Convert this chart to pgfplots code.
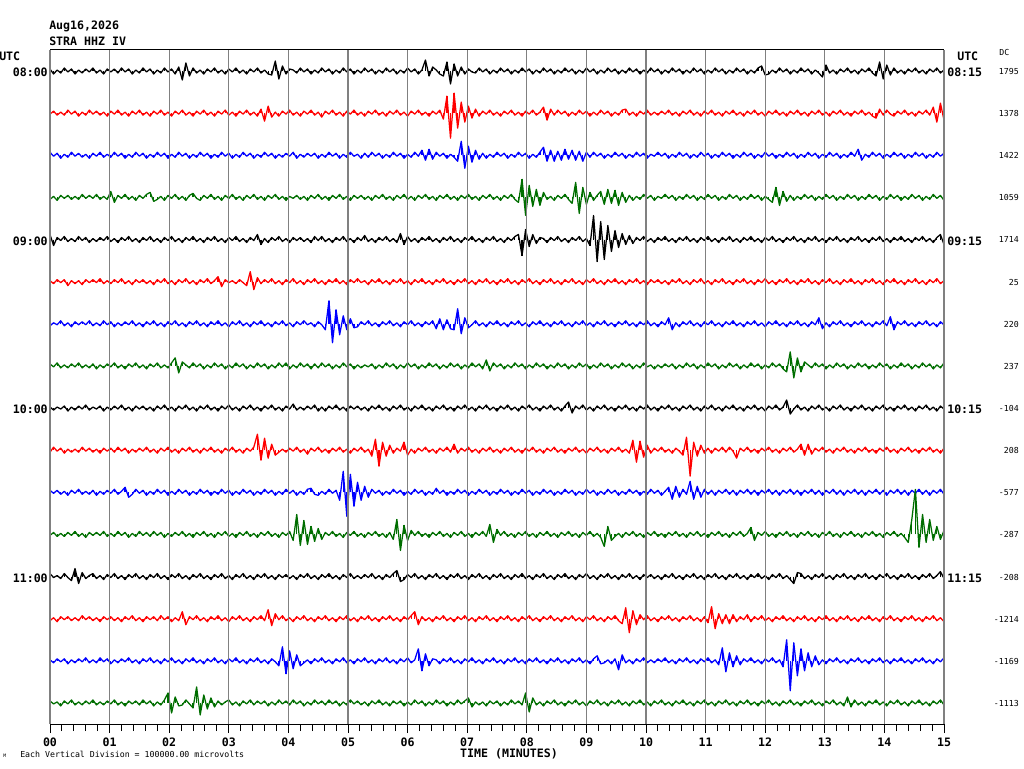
\documentclass[border=0pt]{standalone}
\usepackage{pgfplots}
\usepackage{pgfplotstable}
\pgfplotsset{compat=1.18}
\usepackage{fontspec}
\setmainfont{DejaVu Sans Mono}
\definecolor{tgreen}{RGB}{0,110,0}
\definecolor{tgray}{RGB}{128,128,128}
\pgfplotstableread{
t A B C D E F G H I J K L M N O P
0.00 2 -1 3 -2 5 1 -2 2 1 -2 2 -1 3 -2 1 2
0.06 -3 2 -1 1 -6 -2 1 -1 -2 3 -1 2 -1 1 -2 -1
0.12 1 -2 2 -3 2 2 -1 3 1 -1 2 -2 1 -3 2 1
0.18 -2 1 -3 2 -1 -1 3 -2 -1 2 -2 1 -2 2 -1 -3
0.24 3 -2 1 -1 3 2 -2 1 2 -3 1 -2 3 -1 2 2
0.30 -1 3 -2 2 -2 -4 1 -2 -3 1 -3 2 -1 2 -3 -1
0.36 2 -1 3 -2 1 1 -3 2 1 -2 2 -1 -4 -2 1 3
0.42 -3 2 -1 1 -2 -2 2 -1 -2 1 -1 3 8 1 -2 -2
0.48 1 -3 2 -2 3 1 -1 3 2 -2 3 -2 -7 -2 2 1
0.54 -2 1 -2 3 -1 -3 2 -2 -1 3 -2 1 4 3 -1 -2
0.60 2 -2 1 -1 2 2 -1 1 3 -1 1 -3 -2 -1 3 2
0.66 -1 3 -3 2 -3 -1 3 -2 -2 2 -2 2 1 2 -2 -1
0.72 3 -1 2 -1 1 2 -2 2 1 -2 2 -1 3 -2 1 3
0.78 -2 2 -1 3 -2 -1 1 -3 -1 1 -3 2 -2 1 -2 -2
0.84 1 -2 3 -2 2 3 -2 1 2 -3 1 -1 1 -3 3 1
0.90 -3 1 -2 1 -1 -2 3 -2 -3 2 -2 3 -3 2 -1 -2
0.96 2 -3 1 -2 3 1 -1 2 1 -1 2 -2 2 -1 2 2
1.02 -1 2 -2 6 -2 -2 2 -1 -2 2 -1 1 -1 2 -3 -1
1.08 2 -1 3 -5 1 2 -3 3 2 -2 3 -2 3 -2 1 3
1.14 -2 3 -1 2 -3 -1 1 -2 -1 3 -2 3 -2 1 -2 -2
1.20 3 -2 2 -1 2 3 -2 1 3 -1 1 -1 1 -3 2 1
1.26 -1 1 -3 3 -1 -2 2 -3 -2 2 5 2 -3 2 -1 -3
1.32 2 -3 1 -2 3 1 -1 2 1 -3 -5 -3 2 -1 3 2
1.38 -3 2 -2 1 -2 -3 3 -1 -3 1 -2 1 -1 3 -2 -1
1.44 1 -1 3 -3 1 2 -2 3 2 -2 3 -2 3 -2 1 2
1.50 -2 3 -1 2 -3 -1 1 -2 -1 2 -1 3 -2 1 -3 -2
1.56 3 -2 2 -1 2 2 -3 1 2 -1 2 -1 1 -3 2 3
1.62 -1 1 -3 3 -1 -2 2 -3 -2 3 -3 2 -3 2 -1 -1
1.68 2 -3 1 5 3 1 -1 2 1 -2 1 -2 2 -1 3 2
1.74 -3 2 -2 -4 -2 -3 3 -1 -3 1 -2 3 -1 2 -2 -3
1.80 1 -1 3 -2 1 2 -2 3 2 -3 3 -1 3 -2 1 1
1.86 -2 3 -1 1 -3 -1 1 -2 -1 2 -1 2 -2 3 -3 -2
1.92 3 -2 2 -3 2 3 -3 1 3 -1 2 -3 1 -1 2 3
1.98 -1 1 -3 2 -1 -2 2 -2 -2 3 -3 1 -3 2 -1 10
2.04 2 -3 1 -1 3 1 -1 3 1 -2 1 -2 2 -3 3 -10
2.10 -3 2 -2 3 -2 -3 3 8 -3 1 -2 2 -1 1 -2 6
2.16 4 -1 3 -2 1 2 -2 -7 2 -3 3 -1 3 -2 1 -3
2.22 -9 3 -1 1 -3 -1 1 4 -1 2 -1 3 -2 7 -3 -2
2.28 8 -2 2 -3 2 3 -3 1 3 -1 2 -2 1 -6 2 3
2.34 -5 1 -3 2 -1 -2 2 -2 -2 3 -3 1 -3 2 -1 -1
2.40 3 -3 1 4 3 1 -1 3 1 -2 1 -3 2 -1 3 -5
2.46 -2 2 -2 -1 -2 -3 3 -1 -3 1 -2 2 -1 3 -2 16
2.52 1 -1 3 -3 1 2 -2 2 2 -3 3 -1 3 -2 1 -12
2.58 -3 3 -1 2 -3 -1 1 -3 -1 2 -1 3 -2 1 -3 8
2.64 2 -2 2 -1 2 3 -3 1 3 -1 2 -2 1 -3 2 -6
2.70 -1 1 -3 3 -1 -2 2 -2 -2 3 -3 1 -3 2 -1 5
2.76 3 -3 1 -2 3 1 -1 3 1 -2 1 -3 2 -1 3 -4
2.82 -2 2 -2 1 -2 5 3 -1 -3 1 -2 2 -1 3 -2 2
2.88 1 -1 3 -3 1 -5 -2 2 2 -3 3 -1 3 -2 1 -2
2.94 -3 3 -1 2 -3 2 1 -3 -1 2 -1 3 -2 1 -3 1
3.00 2 -2 2 -1 2 -1 -3 1 3 -1 2 -2 1 -3 2 3
3.06 -1 1 -3 3 -1 1 2 -2 -2 3 -3 1 -3 2 -1 -2
3.12 3 -3 1 -2 3 -2 -1 3 1 -2 1 -3 2 -1 3 1
3.18 -2 2 -2 1 -2 2 3 -1 -3 1 -2 2 -1 3 -2 -3
3.24 1 -1 3 -3 1 -1 -2 2 2 -3 3 -1 3 -2 1 2
3.30 -3 3 -1 2 -3 -4 1 -3 -1 2 -1 3 -2 1 -3 -1
3.36 2 -2 2 -1 2 10 -3 1 3 -1 2 -2 1 -3 2 3
3.42 -1 1 -3 3 -1 -8 2 -2 -2 3 -3 1 -3 2 -1 -2
3.48 3 -3 1 -2 5 4 -1 3 1 16 1 -3 2 -1 3 2
3.54 -2 4 -2 1 -5 -2 3 -1 -3 -10 -2 2 -1 3 -2 -1
3.60 1 -8 3 -3 1 2 -2 2 2 12 3 -1 3 -2 1 2
3.66 -3 7 -1 2 -3 -1 1 -3 -1 -8 -1 3 -2 9 -3 -3
3.72 -4 -4 2 -1 2 3 -3 1 3 6 2 -2 1 -7 2 1
3.78 10 1 -3 3 -1 -2 2 -2 -2 -5 -3 1 -3 5 -1 -2
3.84 -8 -3 1 -2 3 1 -1 3 1 -2 1 -3 2 -1 -5 3
3.90 5 2 -2 1 -2 -3 3 -1 -3 1 -2 2 -1 3 14 -1
3.96 -3 -1 2 -3 1 2 -2 3 2 -2 3 -1 2 -2 -13 2
4.02 2 3 -1 1 -3 -1 1 -3 -1 2 -1 3 -2 1 10 -2
4.08 1 -2 3 -1 2 3 -3 1 4 -1 2 -6 1 -3 -8 3
4.14 -2 1 -3 2 -1 -2 2 -2 -2 3 -3 20 -3 2 6 -1
4.20 3 -3 1 -2 2 1 -1 3 1 -2 1 -11 2 -1 -5 2
4.26 -1 2 -2 1 -2 -3 3 -1 -2 1 -2 14 -1 3 -2 -3
4.32 2 -1 2 -3 1 2 -1 2 2 -4 3 -10 3 -2 1 1
4.38 -3 3 -1 2 -3 -1 1 -3 -1 2 4 8 -2 1 -3 -2
4.44 1 -2 2 -1 3 3 -3 2 3 -1 -2 -7 1 -3 2 3
4.50 -2 1 -3 3 -1 -2 2 -2 -3 3 -3 6 -3 2 -1 -1
4.56 3 -4 1 -2 3 1 -1 3 1 -2 1 -5 2 -1 3 2
4.62 -1 2 -2 1 -2 -3 -6 -1 -3 1 -2 2 -1 3 -2 -2
4.68 2 -1 3 -3 1 2 23 2 2 -3 3 -1 3 -2 1 3
4.74 -3 3 -1 2 -3 -1 -19 -3 -1 2 -1 3 -2 1 -3 -1
4.80 1 -2 2 -1 2 3 14 1 3 -1 2 -2 1 -3 2 2
4.86 -2 1 -3 3 -1 -2 -11 -2 -2 3 -8 1 -3 2 -1 -3
4.92 3 -3 1 -2 3 1 8 3 1 -2 21 -3 2 -1 3 1
4.98 -1 2 -2 1 -2 -3 -6 -1 -3 1 -24 2 -1 3 -2 -2
5.04 2 -1 3 -3 1 2 5 2 2 -3 18 -1 3 -2 1 3
5.10 -3 3 -1 2 -3 -1 -4 -3 -1 2 -14 3 -2 1 -3 -1
5.16 1 -2 1 -1 2 3 -3 1 2 -1 10 -2 1 -3 2 2
5.22 -2 1 -3 2 -1 -1 2 -2 -2 3 -8 1 -2 2 -1 -2
5.28 3 -3 2 -2 4 1 -1 1 1 -2 6 -3 2 -1 3 1
5.34 -1 2 -2 1 -2 -3 3 -1 -3 1 -5 2 -1 3 -2 -3
5.40 2 -1 3 -3 1 2 -2 2 2 -6 3 -1 3 -2 1 2
5.46 -3 3 -1 2 -3 -1 1 -3 -1 11 -1 3 -2 1 -3 -1
5.52 1 -2 2 -1 2 3 -3 1 3 -16 2 -2 1 -3 2 3
5.58 -2 1 -3 3 -1 -2 2 -2 -2 8 -3 1 -3 2 -1 -2
5.64 3 -3 1 -2 3 1 -1 3 1 -6 1 -3 2 -1 3 1
5.70 -1 2 -2 1 -2 -3 3 -1 -3 5 -2 2 -1 3 -2 -3
5.76 2 -1 3 -3 1 2 -2 2 2 -3 3 -5 3 -2 1 2
5.82 -3 3 -1 2 -3 -1 1 -3 -1 2 -1 15 6 1 -3 -1
5.88 1 -2 2 -1 6 3 -3 1 3 -1 2 -16 -5 -3 2 2
5.94 -2 1 -3 3 -5 -2 2 -2 -2 8 -3 9 -3 2 -1 -3
6.00 3 -3 1 -2 3 1 -1 3 1 -5 1 -6 2 -1 3 1
6.06 -1 2 -2 1 -2 -3 3 -1 -3 1 -2 4 -1 3 -2 -2
6.12 2 -1 3 -3 1 2 -2 2 2 -3 3 -1 3 7 1 3
6.18 -3 3 -1 2 -3 -1 1 -3 -1 2 -1 3 -2 -6 12 -1
6.24 1 -2 5 -1 2 3 -3 1 3 -1 2 -2 1 2 -10 2
6.30 11 1 -5 3 -1 -2 2 -2 -2 3 -3 1 -3 -2 7 -3
6.36 -5 -3 6 -2 3 1 -1 3 1 -2 1 -3 2 1 -5 1
6.42 4 2 -4 1 -2 -3 3 -1 -3 1 -2 2 -1 -3 2 -2
6.48 1 -1 3 -3 1 2 -5 2 2 -3 4 -1 3 2 1 3
6.54 -3 3 -1 2 -3 -1 5 -3 -1 2 -1 3 -2 -1 -3 -1
6.60 -5 -6 2 -1 2 3 -6 1 3 -1 2 -2 1 3 2 2
6.66 9 17 -3 3 -1 -2 4 -2 -2 3 -3 1 -3 -2 -1 -3
6.72 -13 -25 1 -2 3 1 -5 3 1 -2 1 -3 2 1 3 1
6.78 7 20 -2 1 -2 -3 -6 -1 -3 6 -2 2 -1 -3 -2 -2
6.84 -5 -15 -6 -3 1 2 15 2 2 -3 3 -1 3 2 1 3
6.90 4 11 14 2 -3 -1 -10 -3 -1 2 -1 3 -2 -1 -3 -1
6.96 -3 -9 -13 -1 2 3 6 1 3 -1 2 -2 1 3 2 2
7.02 2 7 9 3 -1 -2 -4 -2 -2 3 -3 1 -3 -2 -1 5
7.08 -1 -5 -7 -2 3 1 -1 3 1 -2 1 -3 2 1 3 -4
7.14 -2 4 5 1 -2 -3 3 -1 -3 1 -2 2 -1 -3 -2 1
7.20 3 -3 -4 -3 1 2 -2 2 2 -3 3 -1 3 2 1 -2
7.26 -1 2 2 2 -3 -1 1 -3 -1 2 -1 3 -2 -1 -3 1
7.32 2 -1 -3 -1 2 3 -3 6 3 -1 2 -2 1 3 2 -3
7.38 -3 3 1 3 -1 -2 2 -5 -2 3 -3 10 -3 -2 -1 2
7.44 1 -2 -2 -2 3 1 -1 3 1 -2 1 -8 2 1 3 -1
7.50 -2 1 3 1 -2 -3 3 -1 -3 1 -2 5 -1 -3 -2 2
7.56 3 -3 -1 -3 1 2 -2 2 2 -3 3 -1 3 2 1 -3
7.62 -1 2 2 2 -3 -1 1 -3 -1 2 -1 3 -2 -1 -3 1
7.68 2 -1 -3 -1 2 3 -3 1 3 -1 2 -2 1 3 2 -2
7.74 -3 3 1 3 -1 -2 2 -2 -2 3 -3 1 -3 -2 -1 3
7.80 1 -2 -2 -2 3 1 -1 3 1 -2 1 -3 2 1 3 -1
7.86 -2 1 3 -5 5 -3 3 -1 -3 1 -2 2 -1 -3 -2 2
7.92 3 -3 -1 18 -16 2 -2 2 2 -3 3 -1 3 2 1 -2
7.98 -1 2 2 -18 10 -1 1 -3 -1 2 -1 3 -2 -1 -3 10
8.04 2 -1 -3 12 -7 3 -3 1 3 -1 2 -2 1 3 2 -9
8.10 -3 3 1 -9 5 -2 2 -2 -2 3 -3 1 -3 -2 -1 5
8.16 1 -2 -2 8 -4 1 -1 3 1 -2 1 -3 2 1 3 -2
8.22 -2 1 3 -8 2 -3 3 -1 -3 1 -2 2 -1 -3 -2 1
8.28 3 6 8 5 1 2 -2 2 2 -3 3 -1 3 2 1 -3
8.34 -1 -7 -6 -2 -3 -1 1 -3 -1 2 -1 3 -2 -1 -3 2
8.40 2 4 5 1 2 3 -3 1 3 -1 2 -2 1 3 2 -1
8.46 -3 -2 -6 -3 -1 -2 2 -2 -2 3 -3 1 -3 -2 -1 3
8.52 1 3 4 2 3 1 -1 3 1 -2 1 -3 2 1 3 -2
8.58 -2 -1 -5 -1 -2 -3 3 -1 -3 1 -2 2 -1 -3 -2 1
8.64 3 2 6 3 1 2 -2 2 2 -3 3 -1 3 2 1 -3
8.70 -1 -3 -4 -2 -3 -1 1 -3 6 2 -1 3 -2 -1 -3 2
8.76 2 1 5 -6 2 3 -3 1 -5 -1 2 -2 1 3 2 -1
8.82 -3 -2 -5 15 -1 -2 2 -2 2 3 -3 1 -3 -2 -1 3
8.88 1 3 4 -16 3 1 -1 3 -1 -2 1 -3 2 1 3 -2
8.94 -2 -1 -6 10 -2 -3 3 -1 3 1 -2 2 -1 -3 -2 1
9.00 3 2 3 -7 1 2 -2 2 -2 -3 3 -1 3 2 1 -3
9.06 -1 -3 -2 5 -6 -1 1 -3 1 2 -1 3 -2 -1 -3 2
9.12 2 1 3 -3 24 3 -3 1 -3 -1 2 -2 1 3 2 -1
9.18 -3 -2 -1 2 -22 -2 2 -2 2 3 -3 1 -3 -2 5 3
9.24 1 3 2 6 18 1 -1 3 -1 -2 1 -3 2 1 -3 -2
9.30 -2 -1 -3 -7 -20 -3 3 -1 3 1 -2 -12 -1 -3 -2 1
9.36 3 2 1 8 14 2 -2 2 -2 -3 3 8 3 2 1 -3
9.42 -1 -3 -2 -6 -12 -1 1 -3 1 2 -1 -6 -2 -1 -3 2
9.48 2 1 3 7 9 3 -3 1 -3 -1 2 -2 1 3 2 -1
9.54 -3 -2 -1 -8 -8 -2 2 -2 2 3 -3 1 -3 -2 -9 3
9.60 1 3 2 5 6 1 -1 3 -1 -2 1 -3 2 -5 6 -2
9.66 -2 4 -3 -5 -5 -3 3 -1 3 1 -2 2 -1 11 -2 1
9.72 3 -2 1 2 4 2 -2 2 -2 -3 3 -1 3 -14 1 -3
9.78 -1 1 -2 -3 -4 -1 1 -3 1 10 -1 3 -2 8 -3 2
9.84 2 -3 3 1 2 3 -3 1 -3 -12 2 -2 1 -6 2 -1
9.90 -3 2 -1 -2 -1 -2 2 -2 2 9 -3 1 -3 4 -1 3
9.96 1 -1 2 3 3 1 -1 3 -1 -7 1 -3 2 -1 3 -2
10.02 -2 3 -3 -1 -2 -3 3 -1 3 5 -2 2 -1 3 -2 1
10.08 3 -2 1 2 1 2 -2 1 -2 -3 3 -1 2 -2 1 -3
10.14 -1 1 -1 -3 -3 -1 1 -3 1 2 -1 3 -2 1 -2 2
10.20 2 -2 3 1 2 2 -3 1 -3 -1 2 -2 1 -3 2 -1
10.26 -3 2 -1 -1 -1 -2 2 -2 2 3 -3 1 -3 2 -1 3
10.32 1 -1 2 3 3 1 -1 2 -1 -2 1 -3 2 -1 3 -2
10.38 -2 3 -3 -1 -2 -3 6 -1 3 1 5 2 -1 3 -2 1
10.44 3 -2 1 2 1 2 -6 2 -2 -3 -7 -1 3 -2 1 -3
10.50 -1 1 -2 -3 -3 -1 1 -3 1 2 6 3 -2 1 -3 2
10.56 2 -3 3 1 2 3 -3 1 -3 -1 -5 -2 1 -3 2 -1
10.62 -3 2 -1 -2 -1 -2 2 -2 2 -5 3 1 -3 2 -1 3
10.68 1 -1 2 3 3 1 -1 3 -1 13 -2 -3 2 -1 3 -2
10.74 -2 3 -3 -1 -2 -3 3 -1 3 -26 11 2 -1 3 -2 1
10.80 3 -2 1 2 1 2 -2 2 -2 8 -7 -1 3 -2 1 -3
10.86 -1 1 -2 -3 -3 -1 1 -3 1 -6 6 3 -2 1 -3 2
10.92 2 -3 3 1 2 3 -3 1 -3 5 -5 -2 1 -3 2 -1
10.98 -3 2 -1 -2 -1 -2 2 -2 2 -3 3 1 -3 2 -1 3
11.04 1 -1 2 3 3 1 -1 3 -1 2 -2 -3 2 -4 3 -2
11.10 -2 3 -3 -1 -2 -3 3 -1 3 -3 2 2 -1 12 -2 1
11.16 3 -2 1 2 1 2 -2 2 -2 2 -3 -1 3 -10 1 -3
11.22 -1 1 -2 -3 -3 -1 1 -3 1 -1 2 3 -2 5 -4 2
11.28 2 -3 3 1 2 3 -3 1 -3 3 -1 -2 1 -5 13 -1
11.34 -3 2 -1 -2 -1 -2 2 -2 2 -2 3 1 -3 4 -11 3
11.40 1 -1 2 3 3 1 -1 3 -1 3 -2 -3 2 -5 8 -2
11.46 -2 3 -3 -1 -2 -3 3 -1 3 -1 2 2 -1 4 -6 1
11.52 3 -2 1 2 1 2 -2 2 -2 -8 -3 -1 3 -3 5 -3
11.58 -1 1 -2 -3 -3 -1 1 -3 1 2 2 3 -2 2 -4 2
11.64 2 -3 3 1 2 3 -3 1 -3 -1 -1 -2 1 -1 2 -1
11.70 -3 2 -1 -2 -1 -2 2 -2 2 3 3 1 -3 4 -1 3
11.76 1 -1 2 3 3 1 -1 3 -1 -2 -2 7 2 -3 3 -2
11.82 -2 3 -3 -1 -2 -3 3 -1 3 1 2 -6 -1 2 -2 1
11.88 3 -2 1 2 1 2 -2 2 -2 -3 -3 2 3 -1 1 -3
11.94 5 1 -2 -3 -3 -1 1 -3 1 2 2 -1 -2 3 -3 2
12.00 -4 -3 3 1 2 3 -3 1 -3 -1 -1 3 1 -2 2 -1
12.06 -3 2 -1 -2 -1 -2 2 -2 2 3 3 -2 -3 1 -1 3
12.12 1 -1 2 -5 3 1 -1 3 -1 -2 -2 1 2 -3 3 -2
12.18 -2 3 -3 10 -2 -3 3 -1 3 1 2 -3 -1 2 -2 1
12.24 3 -2 1 -8 1 2 -2 2 -2 -3 -3 2 3 -1 1 -3
12.30 -1 1 -2 6 -3 -1 1 -3 1 2 2 -1 -2 3 -6 2
12.36 2 -3 3 -4 2 3 -3 -6 8 -1 -1 3 1 -2 21 -1
12.42 -3 2 -1 2 -1 -2 2 14 -6 3 3 -2 -3 1 -30 3
12.48 1 -1 2 -3 3 1 -1 -12 -1 -2 -2 1 -7 -3 18 -2
12.54 -2 3 -3 1 -2 -3 3 8 3 1 2 -3 4 2 -15 1
12.60 3 -2 1 -2 1 2 -2 -6 -2 6 -3 2 3 -1 12 -3
12.66 -1 1 -2 3 -3 -1 1 4 1 -5 2 -1 -2 3 -10 2
12.72 2 -3 3 -1 2 3 -3 1 -3 6 -1 3 1 -2 8 -1
12.78 -3 2 -1 2 -1 -2 2 -2 2 -4 3 -2 -3 1 -6 3
12.84 1 -1 2 -3 3 1 -1 3 -1 2 -2 1 2 -3 5 -2
12.90 -2 3 -3 1 -2 -3 6 -1 3 -1 2 -3 -1 2 -4 1
12.96 -6 -2 1 -2 1 2 -5 2 -2 3 -3 2 3 -1 1 -3
13.02 6 1 -2 3 -3 -1 1 -3 1 -2 2 -1 -2 3 -3 2
13.08 -2 -3 3 -1 2 3 -3 1 -3 1 -1 3 1 -2 2 -1
13.14 1 2 -1 2 -1 -2 2 -2 2 -3 3 -2 -3 1 -1 3
13.20 -3 -1 2 -3 3 1 -1 3 -1 2 -2 1 2 -3 3 -2
13.26 2 3 -3 1 -2 -3 3 -1 3 -1 2 -3 -1 2 -2 1
13.32 -1 -2 1 -2 1 2 -2 2 -2 3 -3 2 3 -1 1 -3
13.38 3 1 -2 3 -3 -1 1 -3 1 -2 2 -1 -2 3 -3 6
13.44 -2 -3 3 -1 2 3 -3 1 -3 1 -1 3 1 -2 2 -4
13.50 1 2 -1 2 -1 -2 2 -2 2 -3 3 -2 -3 1 -1 3
13.56 -3 -1 6 -3 3 1 -1 3 -1 2 -2 1 2 -3 3 -2
13.62 2 3 -5 1 -2 -3 3 -1 3 -1 2 -3 -1 2 -2 1
13.68 -1 -2 1 -2 1 2 -2 2 -2 3 -3 2 3 -1 1 -3
13.74 3 1 -2 3 -3 -1 1 -3 1 -2 2 -1 -2 3 -3 2
13.80 -2 -3 3 -1 2 3 -3 1 -3 1 -1 3 1 -2 2 -1
13.86 -5 -5 -1 2 -1 -2 2 -2 2 -3 3 -2 -3 1 -1 3
13.92 9 4 2 -3 3 1 -1 3 -1 2 -2 1 2 -3 3 -2
13.98 -8 -2 -3 1 -2 -3 3 -1 3 -1 2 -3 -1 2 -2 1
14.04 6 3 1 -2 1 2 -2 2 -2 3 -3 2 3 -1 1 -3
14.10 -4 -1 -2 3 -3 -1 7 -3 1 -2 2 -1 -2 3 -3 2
14.16 3 -3 3 -1 2 3 -6 1 -3 1 -1 3 1 -2 2 -1
14.22 -2 2 -1 2 -1 -2 2 -2 2 -3 3 -2 -3 1 -1 3
14.28 1 -1 2 -3 3 1 -1 3 -1 2 -2 1 2 -3 3 -2
14.34 -3 3 -3 1 -2 -3 3 -1 3 -1 2 -3 -1 2 -2 1
14.40 2 -2 1 -2 1 2 -2 2 -2 3 -3 -8 3 -1 1 -3
14.46 -1 1 -2 3 -3 -1 1 -3 1 -2 2 15 -2 3 -3 2
14.52 3 -3 3 -1 2 3 -3 1 -3 1 -1 45 1 -2 2 -1
14.58 -2 2 -1 2 -1 -2 2 -2 2 -3 3 -13 -3 1 -1 3
14.64 1 -1 2 -3 3 1 -1 3 -1 2 -2 20 2 -3 3 -2
14.70 -3 3 -3 1 -2 -3 3 -1 3 -1 2 -8 -1 2 -2 1
14.76 2 -2 1 -2 1 2 -2 2 -2 3 -3 15 3 -1 1 -3
14.82 -1 6 -2 3 -3 -1 1 -3 1 -2 2 -6 -2 3 -3 2
14.88 3 -9 3 -1 2 3 -3 1 -3 1 -1 8 1 -2 2 -1
14.94 -2 10 -1 2 5 -2 2 -2 2 -3 3 -5 5 1 -1 3
15.00 1 -7 2 -3 -5 1 -1 3 -1 2 -2 4 -2 -3 3 -2
}\seis
% one axis per trace: its y = 0 is the trace's centre line (values in pixels)
\newcommand{\trace}[3]{%
\begin{axis}[at={(37.5pt,#3pt)}, anchor=west, scale only axis,
  width=670.5pt, height=31.5975pt, xmin=0, xmax=15, ymin=-21.065, ymax=21.065,
  hide axis, clip=false]
\addplot[#1, line width=0.95pt, line join=round] table[x=t, y=#2] {\seis};
\addplot[#1, ycomb, line width=0.9pt] table[x=t, y=#2] {\seis};
\end{axis}}
\begin{document}
\begin{tikzpicture}[
  big/.style={font=\bfseries\fontsize{8.7}{10}\selectfont, inner sep=0pt},
  small/.style={font=\fontsize{6.2}{7}\selectfont, inner sep=0pt}]
\path[use as bounding box] (0pt,0pt) rectangle (768pt,576pt);
\trace{black}{A}{522.75}
\trace{red}{B}{491.15}
\trace{blue}{C}{459.56}
\trace{tgreen}{D}{427.96}
\trace{black}{E}{396.36}
\trace{red}{F}{364.76}
\trace{blue}{G}{333.17}
\trace{tgreen}{H}{301.57}
\trace{black}{I}{269.97}
\trace{red}{J}{238.37}
\trace{blue}{K}{206.78}
\trace{tgreen}{L}{175.18}
\trace{black}{M}{143.58}
\trace{red}{N}{111.98}
\trace{blue}{O}{80.39}
\trace{tgreen}{P}{48.79}
\begin{axis}[
  at={(37.5pt,33pt)}, anchor=south west,
  scale only axis, width=670.5pt, height=505.5pt,
  xmin=0, xmax=15, ymin=-15.5, ymax=0.5,
  axis line style={draw=none},
  xtick={0,...,15},
  xticklabels={00,01,02,03,04,05,06,07,08,09,10,11,12,13,14,15},
  minor x tick num=4,
  xtick pos=bottom,
  xtick align=outside,
  major tick length=6.75pt, minor tick length=5.25pt,
  ytick=\empty,
  xmajorgrids,
  major grid style={tgray, line width=1pt},
  every tick/.style={black, line width=0.75pt},
  xticklabel style={font=\bfseries\fontsize{8.7}{10}\selectfont, inner sep=0pt, yshift=-3.4pt},
  clip=false,
]
\draw[black, line width=0.75pt] (rel axis cs:0,1) -- (rel axis cs:1,1);
\draw[black, line width=0.75pt] (rel axis cs:0,0) -- (rel axis cs:1,0);
\end{axis}
\begin{scope}[x=0.75pt, y=-0.75pt, shift={(0pt,576pt)}]
\node[big, anchor=base west] at (49,30) {Aug16,2026};
\node[big, anchor=base west] at (49,46) {STRA HHZ IV};
\node[big, anchor=base west] at (-1,61) {UTC};
\node[big, anchor=base west] at (957,61) {UTC};
\node[small, anchor=base west] at (999,56) {DC};
\node[big, anchor=base east] at (48,77) {08:00};
\node[big, anchor=base east] at (48,245.5) {09:00};
\node[big, anchor=base east] at (48,414) {10:00};
\node[big, anchor=base east] at (48,582.6) {11:00};
\node[big, anchor=base west] at (947,77) {08:15};
\node[big, anchor=base west] at (947,245.5) {09:15};
\node[big, anchor=base west] at (947,414) {10:15};
\node[big, anchor=base west] at (947,582.6) {11:15};
\node[small, anchor=base east] at (1019,74.5) {1795};
\node[small, anchor=base east] at (1019,116.6) {1378};
\node[small, anchor=base east] at (1019,158.8) {1422};
\node[small, anchor=base east] at (1019,200.9) {1059};
\node[small, anchor=base east] at (1019,243.0) {1714};
\node[small, anchor=base east] at (1019,285.2) {25};
\node[small, anchor=base east] at (1019,327.3) {220};
\node[small, anchor=base east] at (1019,369.4) {237};
\node[small, anchor=base east] at (1019,411.5) {-104};
\node[small, anchor=base east] at (1019,453.7) {208};
\node[small, anchor=base east] at (1019,495.8) {-577};
\node[small, anchor=base east] at (1019,537.9) {-287};
\node[small, anchor=base east] at (1019,580.1) {-208};
\node[small, anchor=base east] at (1019,622.2) {-1214};
\node[small, anchor=base east] at (1019,664.3) {-1169};
\node[small, anchor=base east] at (1019,706.5) {-1113};
\node[big, anchor=base] at (509,757) {TIME (MINUTES)};
\node[small, anchor=base west] at (20,757) {Each Vertical Division = 100000.00 microvolts};
\node[font=\fontsize{3.5}{4}\selectfont, inner sep=0pt, anchor=base west] at (3,757) {M};
\end{scope}
\end{tikzpicture}
\end{document}
